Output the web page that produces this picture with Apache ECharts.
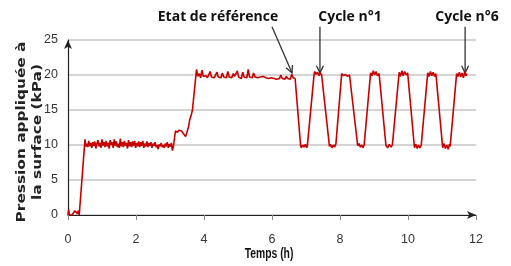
<!DOCTYPE html>
<html><head><meta charset="utf-8">
<script src="https://cdn.jsdelivr.net/npm/echarts@6/dist/echarts.min.js"></script>
<style>html,body{margin:0;padding:0;background:#fff}#c{width:511px;height:266px}</style>
</head><body><div id="c"></div>
<script>
const xTicks = [0, 2, 4, 6, 8, 10, 12];
const yTicks = [0, 5, 10, 15, 20, 25];
const xTitle = 'Temps (h)';
const yTitle = ['Pression appliquée à', 'la surface (kPa)'];
const annotations = [
  { text: 'Etat de référence', from: [6.0, 26.9], to: [6.59, 20.3] },
  { text: 'Cycle n°1', from: [7.41, 26.9], to: [7.41, 20.3] },
  { text: 'Cycle n°6', from: [11.68, 26.9], to: [11.68, 20.3] }
];
const timeH = [
  0,0.02,0.04,0.08,0.12,0.16,0.2,0.24,0.28,0.3,0.33,0.36,0.5,0.52,
  0.55,0.58,0.61,0.64,0.67,0.70,0.73,0.76,0.79,0.82,0.85,0.88,0.91,0.94,0.97,1.00,1.03,1.06,1.09,1.12,1.15,1.18,1.21,1.24,1.27,1.30,1.33,1.36,1.39,1.42,1.45,1.48,1.51,1.54,1.57,1.60,1.63,1.66,1.69,1.72,1.75,1.78,1.81,1.84,1.87,1.90,1.93,1.96,1.99,2.02,2.05,2.08,2.11,2.14,2.17,2.20,2.23,2.26,2.29,2.32,2.35,2.38,2.41,2.44,2.47,2.50,2.53,2.56,2.59,2.62,2.65,2.68,2.71,2.74,2.77,2.80,2.83,2.86,2.89,2.92,2.95,2.98,3.01,3.04,3.07,3.10,
  3.16,3.18,3.22,3.26,3.30,3.34,3.38,3.42,3.46,3.50,3.54,3.58,3.62,3.66,3.78,3.82,3.86,3.90,3.94,3.98,
  4.02,4.06,4.10,4.14,4.18,4.22,4.26,4.30,4.34,4.38,4.42,4.46,4.50,4.54,4.58,4.62,4.66,4.70,4.74,4.78,4.82,4.86,4.90,4.94,4.98,5.02,5.06,5.10,5.14,5.18,5.22,5.26,5.30,5.34,5.38,5.42,5.46,5.50,5.54,5.58,5.62,5.66,5.70,5.74,5.78,5.82,5.86,5.90,5.94,5.98,6.02,6.06,6.10,6.14,6.18,6.22,6.26,6.30,6.34,6.38,6.42,6.46,6.50,6.54,6.58,6.62,6.66,6.68,
  6.84,6.86,6.90,6.94,6.98,7.02,7.04,
  7.24,7.26,7.30,7.34,7.38,7.42,7.46,7.49,
  7.69,7.72,7.76,7.80,7.84,7.88,
  8.05,8.10,8.16,8.22,8.28,8.31,
  8.52,8.56,8.60,8.64,8.68,8.71,
  8.90,8.94,8.98,9.02,9.06,9.10,9.15,
  9.35,9.40,9.45,9.50,9.54,9.57,
  9.74,9.78,9.82,9.86,9.90,9.95,9.99,
  10.19,10.23,10.27,10.31,10.35,10.39,
  10.58,10.62,10.66,10.70,10.74,10.78,10.82,
  11.02,11.06,11.10,11.14,11.18,11.22,11.24,
  11.43,11.47,11.51,11.55,11.59,11.63,11.67,11.71,11.73
];
const pressureKPa = [
  0,0.8,0,0.1,0,0.3,0.6,0.5,0.2,0.6,0,0.2,10.8,9.8,
  10.2,9.7,10.6,9.8,10.3,9.6,10.4,9.9,10.5,9.5,10.2,10.7,9.8,10.3,9.6,10.8,9.9,10.4,9.7,10.6,9.8,10.3,9.5,10.7,10.0,10.4,9.6,10.8,9.9,10.5,9.7,10.2,9.6,10.9,9.8,10.4,9.7,10.6,9.9,10.3,9.5,10.7,9.8,10.4,9.7,10.5,9.9,10.6,9.6,10.3,9.8,10.5,9.7,10.4,9.9,10.6,9.6,10.2,9.8,10.5,9.7,10.3,9.9,10.4,9.6,10.2,9.9,10.4,9.7,10.0,9.4,10.1,9.8,10.3,9.7,10.0,9.6,10.2,9.8,10.4,9.6,10.1,9.8,10.3,9.2,9.8,
  12.0,12.2,11.8,12.1,11.9,12.0,11.7,11.5,11.2,11.0,12.5,13.6,14.2,15.0,20.8,19.8,20.2,19.6,20.7,19.8,
  19.7,19.9,19.6,19.8,20.5,19.7,19.9,19.6,19.8,20.4,19.7,19.8,19.6,20.3,19.7,19.9,19.6,20.5,19.7,19.8,19.6,20.2,19.8,19.6,20.6,19.7,19.8,19.5,20.4,19.7,19.9,19.6,20.8,19.7,19.8,19.6,20.3,19.7,19.8,19.6,19.8,19.7,19.6,19.8,19.7,19.6,19.7,19.5,19.7,19.6,19.7,19.5,19.6,19.4,19.6,19.5,20.0,19.5,19.6,19.4,19.8,19.5,19.6,19.4,20.1,19.6,19.8,19.5,
  10.0,9.6,10.0,9.7,10.1,9.6,9.9,
  20.2,20.5,20.1,20.4,19.9,20.3,20.0,20.2,
  9.8,10.1,9.6,10.0,9.7,10.2,
  20.2,19.9,20.1,19.8,20.0,19.9,
  9.9,10.2,9.7,10.0,9.6,10.0,
  20.3,19.9,20.6,20.0,20.5,19.9,20.2,
  10.0,9.6,10.1,9.7,10.0,9.8,
  20.4,19.8,20.6,19.9,20.5,20.0,20.3,
  9.6,10.1,9.5,10.0,9.6,10.0,
  20.3,19.8,20.5,19.9,20.4,19.8,20.2,
  9.6,10.2,9.5,10.0,9.4,10.1,9.8,
  20.2,19.8,20.4,19.7,20.3,19.6,20.5,19.9,20.2
];
const seriesData = timeH.map((t, i) => [t, pressureKPa[i]]);

const tickFont = '"Liberation Sans", Arial, sans-serif';
const chart = echarts.init(document.getElementById('c'));
chart.setOption({
  animation: false,
  grid: { left: 68, right: 35, top: 40, bottom: 51 },
  xAxis: {
    type: 'value', min: xTicks[0], max: xTicks[xTicks.length - 1], interval: 2,
    axisLine: { show: true, symbol: ['none', 'arrow'], symbolSize: [6, 9], lineStyle: { color: '#222', width: 1.2 } },
    axisTick: { show: true, length: 5, lineStyle: { color: '#888' } },
    axisLabel: { color: '#333', fontFamily: tickFont, fontSize: 12.5, margin: 18 },
    splitLine: { show: false }
  },
  yAxis: {
    type: 'value', min: yTicks[0], max: yTicks[yTicks.length - 1], interval: 5,
    axisLine: { show: true, symbol: ['none', 'arrow'], symbolSize: [6, 9], lineStyle: { color: '#222', width: 1.2 } },
    axisTick: { show: false },
    axisLabel: { color: '#333', fontFamily: tickFont, fontSize: 12.5, margin: 10 },
    splitLine: { show: true, lineStyle: { color: '#d4d4d4', width: 2 } }
  },
  series: [{
    type: 'line', data: seriesData, showSymbol: false, symbol: 'none',
    lineStyle: { color: '#c80000', width: 1.6 }, z: 3
  }]
});

const g = [];
g.push({ type: 'text', x: 269, y: 254, scaleX: 0.74,
  style: { text: xTitle, font: 'bold 14px "Liberation Sans", sans-serif', fill: '#111', align: 'center', verticalAlign: 'middle' } });
g.push({ type: 'text', rotation: Math.PI / 2, x: 22, y: 132, scaleX: 1.18,
  style: { text: yTitle[0], font: 'bold 13px "DejaVu Sans", sans-serif', fill: '#222', align: 'center', verticalAlign: 'middle' } });
g.push({ type: 'text', rotation: Math.PI / 2, x: 38, y: 132, scaleX: 1.18,
  style: { text: yTitle[1], font: 'bold 13px "DejaVu Sans", sans-serif', fill: '#222', align: 'center', verticalAlign: 'middle' } });
const labelX = [218, 350, 467];
annotations.forEach((a, i) => {
  const p0 = chart.convertToPixel({ gridIndex: 0 }, a.from);
  const p1 = chart.convertToPixel({ gridIndex: 0 }, a.to);
  g.push({ type: 'line', shape: { x1: p0[0], y1: p0[1], x2: p1[0], y2: p1[1] }, style: { stroke: '#333', lineWidth: 1.3 } });
  const ang = Math.atan2(p1[1] - p0[1], p1[0] - p0[0]);
  const L = 8, w = 0.45;
  g.push({ type: 'polyline', shape: { points: [
    [p1[0] - L * Math.cos(ang - w), p1[1] - L * Math.sin(ang - w)],
    [p1[0], p1[1]],
    [p1[0] - L * Math.cos(ang + w), p1[1] - L * Math.sin(ang + w)]
  ] }, style: { stroke: '#333', lineWidth: 1.3, fill: 'none' } });
  g.push({ type: 'text', x: labelX[i], y: 17, style: { text: a.text, font: 'bold 14px "Open Sans", sans-serif', fill: '#111', align: 'center', verticalAlign: 'middle' } });
});
chart.setOption({ graphic: g });
</script></body></html>
